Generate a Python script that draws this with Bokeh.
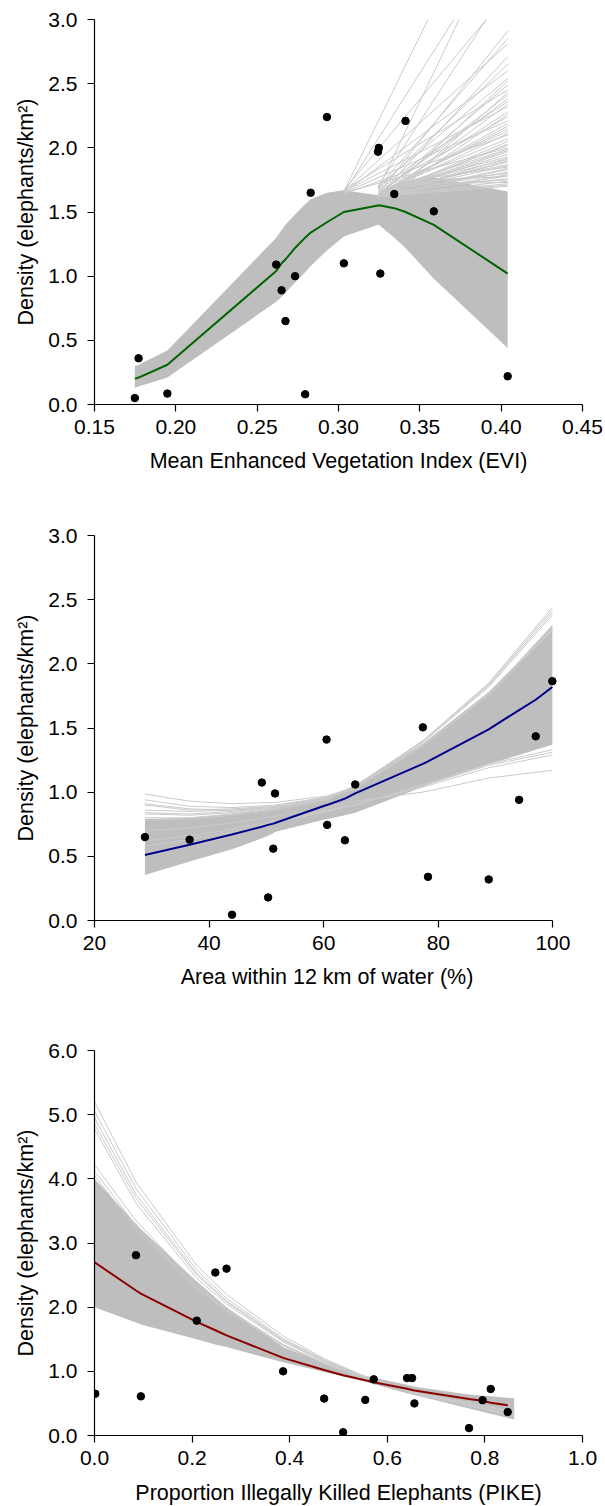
from bokeh.plotting import figure
from bokeh.layouts import column
from bokeh.models import FixedTicker, NumeralTickFormatter, Range1d
from bokeh.embed import file_html
from bokeh.resources import INLINE

# ---------------- Panel 1: EVI ----------------
evi_obs = [0.1748, 0.1771, 0.1948, 0.2617, 0.2650, 0.2674, 0.2733, 0.2795, 0.2829,
           0.2929, 0.3033, 0.3243, 0.3248, 0.3257, 0.3343, 0.3412, 0.3586, 0.4040]
evi_dens = [0.05, 0.36, 0.085, 1.09, 0.89, 0.65, 1.00, 0.08, 1.65,
            2.24, 1.10, 1.97, 2.00, 1.02, 1.64, 2.21, 1.505, 0.22]
evi_mean = [0.20, 0.21, 0.31, 1.04, 1.10, 1.13, 1.22, 1.30, 1.34,
            1.42, 1.50, 1.55, 1.55, 1.55, 1.53, 1.50, 1.40, 1.02]
evi_lo = [0.13, 0.14, 0.21, 0.80, 0.84, 0.87, 0.95, 1.03, 1.08,
          1.20, 1.31, 1.40, 1.40, 1.39, 1.30, 1.22, 0.98, 0.44]
evi_hi = [0.30, 0.31, 0.42, 1.30, 1.36, 1.40, 1.48, 1.56, 1.60,
          1.65, 1.67, 1.63, 1.64, 1.66, 1.71, 1.74, 1.77, 1.66]
# straight fan-out segments from (x0, start) to (0.404, end)
evi_fan_x0 = [0.3033, 0.3243, 0.3033, 0.3243, 0.3033, 0.3243, 0.3243, 0.3033,
              0.3243, 0.3243, 0.3033, 0.3243, 0.3243, 0.3033, 0.3243, 0.3243,
              0.3033, 0.3243, 0.3243, 0.3033, 0.3243, 0.3243, 0.3033, 0.3243,
              0.3243, 0.3033, 0.3243, 0.3243, 0.3243, 0.3243, 0.3243, 0.3243,
              0.3243, 0.3243, 0.3243, 0.3243, 0.3243, 0.3243, 0.3243, 0.3243,
              0.3243, 0.3243, 0.3243, 0.3243, 0.3243, 0.3243,
              0.3343, 0.3343, 0.3343, 0.3343, 0.3343, 0.3343, 0.3343, 0.3343,
              0.3412, 0.3412, 0.3412, 0.3412, 0.3412, 0.3412, 0.3412, 0.3412]
evi_fan_start = [1.66, 1.68, 1.65, 1.70, 1.67, 1.64, 1.69, 1.66, 1.62, 1.68,
                 1.65, 1.70, 1.63, 1.67, 1.64, 1.69, 1.66, 1.62, 1.68, 1.65,
                 1.63, 1.67, 1.64, 1.66, 1.62, 1.65, 1.63, 1.64, 1.62, 1.63,
                 1.64, 1.62, 1.63, 1.62, 1.64, 1.62, 1.63, 1.62, 1.64, 1.63,
                 1.62, 1.64, 1.63, 1.62, 1.63, 1.62,
                 1.70, 1.69, 1.71, 1.68, 1.70, 1.69, 1.71, 1.70,
                 1.73, 1.72, 1.74, 1.73, 1.72, 1.74, 1.73, 1.72]
evi_fan_end = [4.27, 3.79, 3.66, 3.26, 3.20, 2.91, 2.85, 2.81, 2.71, 2.65,
               2.60, 2.54, 2.49, 2.45, 2.41, 2.36, 2.32, 2.28, 2.24, 2.21,
               2.17, 2.13, 2.10, 2.07, 2.03, 2.00, 1.97, 1.95, 1.92, 1.89,
               1.86, 1.84, 1.81, 1.79, 1.76, 1.74, 1.72, 1.70, 2.38, 2.19,
               2.05, 1.98, 1.90, 1.83, 1.78, 1.71,
               2.52, 2.34, 2.15, 2.02, 1.93, 1.87, 1.80, 1.75,
               2.43, 2.26, 2.11, 1.99, 1.91, 1.85, 1.78, 1.73]
evi_fan_x1 = 0.4040
evi_xticks = [0.15, 0.20, 0.25, 0.30, 0.35, 0.40, 0.45]
evi_yticks = [0.0, 0.5, 1.0, 1.5, 2.0, 2.5, 3.0]

# ---------------- Panel 2: water ----------------
water_obs = [28.8, 36.6, 44.0, 49.2, 50.3, 51.2, 51.5, 60.5, 60.6,
             63.7, 65.5, 77.3, 78.2, 88.8, 94.1, 97.0, 99.9]
water_dens = [0.65, 0.63, 0.045, 1.075, 0.18, 0.56, 0.99, 1.41, 0.745,
              0.625, 1.06, 1.505, 0.34, 0.32, 0.94, 1.435, 1.865]
water_mean = [0.51, 0.59, 0.67, 0.73, 0.745, 0.755, 0.76, 0.90, 0.90,
              0.95, 0.99, 1.22, 1.24, 1.49, 1.64, 1.72, 1.82]
water_lo = [0.355, 0.46, 0.555, 0.64, 0.66, 0.68, 0.69, 0.79, 0.79,
            0.82, 0.84, 1.04, 1.06, 1.22, 1.29, 1.33, 1.37]
water_hi = [0.79, 0.80, 0.83, 0.86, 0.865, 0.87, 0.875, 0.96, 0.96,
            1.01, 1.05, 1.38, 1.41, 1.78, 2.02, 2.16, 2.30]
water_out_x = [28.8, 36.6, 44.0, 51.5, 60.5, 65.5, 77.3, 88.8, 99.9]
water_out_lines = [
    [0.985, 0.93, 0.91, 0.92, 0.97, 1.04, 1.36, 1.76, 2.30],
    [0.94, 0.89, 0.88, 0.90, 0.96, 1.04, 1.37, 1.77, 2.28],
    [0.91, 0.87, 0.86, 0.89, 0.96, 1.03, 1.36, 1.76, 2.27],
    [0.90, 0.86, 0.87, 0.89, 0.96, 1.03, 1.36, 1.76, 2.26],
    [0.86, 0.85, 0.86, 0.88, 0.95, 1.03, 1.36, 1.77, 2.27],
    [0.84, 0.83, 0.85, 0.88, 0.95, 1.04, 1.40, 1.85, 2.44],
    [0.83, 0.82, 0.84, 0.88, 0.95, 1.05, 1.40, 1.84, 2.42],
    [0.80, 0.80, 0.83, 0.87, 0.95, 1.05, 1.39, 1.83, 2.40],
    [0.78, 0.79, 0.82, 0.86, 0.94, 1.04, 1.39, 1.82, 2.38],
    [0.70, 0.72, 0.76, 0.81, 0.88, 0.93, 1.00, 1.11, 1.17],
    [0.62, 0.66, 0.71, 0.78, 0.86, 0.91, 1.04, 1.19, 1.29],
    [0.58, 0.63, 0.69, 0.77, 0.85, 0.90, 1.05, 1.21, 1.31],
    [0.50, 0.58, 0.66, 0.76, 0.85, 0.90, 1.06, 1.22, 1.33],
]
water_xticks = [20, 40, 60, 80, 100]
water_yticks = [0.0, 0.5, 1.0, 1.5, 2.0, 2.5, 3.0]

# ---------------- Panel 3: PIKE ----------------
pike_obs = [0.0016, 0.085, 0.095, 0.2095, 0.2476, 0.2706, 0.3865, 0.4706, 0.5095,
            0.5548, 0.5722, 0.6405, 0.6508, 0.6556, 0.7675, 0.7952, 0.8119, 0.8468]
pike_dens = [0.65, 2.81, 0.61, 1.79, 2.54, 2.60, 1.00, 0.575, 0.05,
             0.555, 0.875, 0.895, 0.895, 0.50, 0.115, 0.55, 0.725, 0.365]
pike_mean_x = [0.0, 0.085, 0.095, 0.2095, 0.2476, 0.2706, 0.3865, 0.4706, 0.5095,
               0.5548, 0.5722, 0.6405, 0.6508, 0.6556, 0.7675, 0.7952, 0.8119, 0.8468]
pike_mean = [2.70, 2.26, 2.21, 1.77, 1.64, 1.56, 1.21, 1.02, 0.94,
             0.86, 0.83, 0.73, 0.71, 0.70, 0.57, 0.54, 0.51, 0.47]
pike_band_x = [0.0, 0.085, 0.095, 0.2095, 0.2476, 0.2706, 0.3865, 0.4706, 0.5095,
               0.5548, 0.5722, 0.6405, 0.6508, 0.6556, 0.7675, 0.7952, 0.8119, 0.86]
pike_lo = [2.00, 1.76, 1.73, 1.50, 1.42, 1.38, 1.14, 0.99, 0.92,
           0.84, 0.80, 0.66, 0.64, 0.63, 0.42, 0.37, 0.34, 0.25]
pike_hi = [4.00, 3.30, 3.22, 2.40, 2.15, 2.00, 1.38, 1.13, 1.03,
           0.93, 0.90, 0.79, 0.77, 0.76, 0.64, 0.62, 0.61, 0.58]
pike_out_x = [0.0, 0.085, 0.2095, 0.2706, 0.3865, 0.4706, 0.5548, 0.6556, 0.86]
pike_out_lines = [
    [5.20, 3.95, 2.65, 2.20, 1.55, 1.20, 0.92, 0.66, 0.32],
    [5.05, 3.85, 2.58, 2.14, 1.51, 1.18, 0.91, 0.65, 0.30],
    [4.95, 3.76, 2.53, 2.10, 1.49, 1.17, 0.90, 0.66, 0.31],
    [4.85, 3.70, 2.50, 2.08, 1.48, 1.16, 0.90, 0.66, 0.32],
    [4.78, 3.62, 2.45, 2.05, 1.46, 1.15, 0.89, 0.66, 0.33],
    [4.22, 3.35, 2.35, 1.98, 1.42, 1.13, 0.89, 0.67, 0.36],
    [4.12, 3.27, 2.31, 1.96, 1.41, 1.12, 0.88, 0.67, 0.37],
    [4.05, 3.22, 2.28, 1.94, 1.40, 1.12, 0.88, 0.67, 0.38],
]
pike_xticks = [0.0, 0.2, 0.4, 0.6, 0.8, 1.0]
pike_yticks = [0.0, 1.0, 2.0, 3.0, 4.0, 5.0, 6.0]

FONT = "Liberation Sans"
BAND = "#BEBEBE"
LINE = "#CACACA"
YLABEL = "Density (elephants/km\u00b2)"


def make_panel(xr, yr, fw, top, bottom, right, xticks, yticks, xfmt, yfmt, xlabel,
               xbounds=None, als_x=12):
    p = figure(frame_width=fw, frame_height=385, x_range=xr, y_range=yr,
               output_backend="svg", toolbar_location=None,
               min_border_left=94, min_border_right=right,
               min_border_top=top, min_border_bottom=bottom)
    p.outline_line_color = None
    p.xgrid.visible = False
    p.ygrid.visible = False
    p.background_fill_color = "white"
    p.border_fill_color = "white"
    for ax in (p.xaxis[0], p.yaxis[0]):
        ax.axis_line_color = "black"
        ax.axis_line_width = 1.2
        ax.major_tick_line_color = "black"
        ax.major_tick_line_width = 1.2
        ax.major_tick_out = 7
        ax.major_tick_in = 0
        ax.minor_tick_line_color = None
        ax.major_label_text_font = FONT
        ax.major_label_text_font_size = "21px"
        ax.major_label_text_color = "black"
        ax.axis_label_text_font = FONT
        ax.axis_label_text_font_size = "21.5px"
        ax.axis_label_text_font_style = "normal"
        ax.axis_label_text_color = "black"
    p.xaxis[0].ticker = FixedTicker(ticks=xticks)
    p.yaxis[0].ticker = FixedTicker(ticks=yticks)
    p.xaxis[0].formatter = NumeralTickFormatter(format=xfmt)
    p.yaxis[0].formatter = NumeralTickFormatter(format=yfmt)
    p.xaxis[0].major_label_standoff = 8
    p.yaxis[0].major_label_standoff = 10
    p.xaxis[0].axis_label = xlabel
    p.yaxis[0].axis_label = YLABEL
    p.xaxis[0].axis_label_standoff = als_x
    p.yaxis[0].axis_label_standoff = 7
    if xbounds is not None:
        p.xaxis[0].bounds = xbounds
    return p


# Panel 1
p1 = make_panel(Range1d(0.15, 0.45), Range1d(0, 3.0), 488, 19, 75, 23,
                evi_xticks, evi_yticks, "0.00", "0.0",
                "Mean Enhanced Vegetation Index (EVI)")
p1.varea(x=evi_obs, y1=evi_lo, y2=evi_hi, fill_color=BAND)
p1.multi_line(xs=[[x0, evi_fan_x1] for x0 in evi_fan_x0],
              ys=[[s, e] for s, e in zip(evi_fan_start, evi_fan_end)],
              line_color=LINE, line_width=1)
p1.line(evi_obs, evi_mean, line_color="#006400", line_width=2)
p1.scatter(evi_obs, evi_dens, size=7.5, color="black")

# Panel 2
p2 = make_panel(Range1d(20, 101.15), Range1d(0, 3.0), 465, 56, 75, 46,
                water_xticks, water_yticks, "0", "0.0",
                "Area within 12 km of water (%)", xbounds=(20, 100))
p2.varea(x=water_obs, y1=water_lo, y2=water_hi, fill_color=BAND)
p2.multi_line(xs=[water_out_x] * len(water_out_lines), ys=water_out_lines,
              line_color=LINE, line_width=1)
p2.line(water_obs, water_mean, line_color="#00008B", line_width=2)
p2.scatter(water_obs, water_dens, size=7.5, color="black")

# Panel 3
p3 = make_panel(Range1d(0, 1.0), Range1d(0, 6.0), 488, 55, 71, 23,
                pike_xticks, pike_yticks, "0.0", "0.0",
                "Proportion Illegally Killed Elephants (PIKE)", als_x=13)
p3.varea(x=pike_band_x, y1=pike_lo, y2=pike_hi, fill_color=BAND)
p3.multi_line(xs=[pike_out_x] * len(pike_out_lines), ys=pike_out_lines,
              line_color=LINE, line_width=1)
p3.line(pike_mean_x, pike_mean, line_color="#8B0000", line_width=2)
p3.scatter(pike_obs, pike_dens, size=7.5, color="black")

layout = column(p1, p2, p3, spacing=0)
open("out.html", "w").write(file_html(layout, INLINE))
